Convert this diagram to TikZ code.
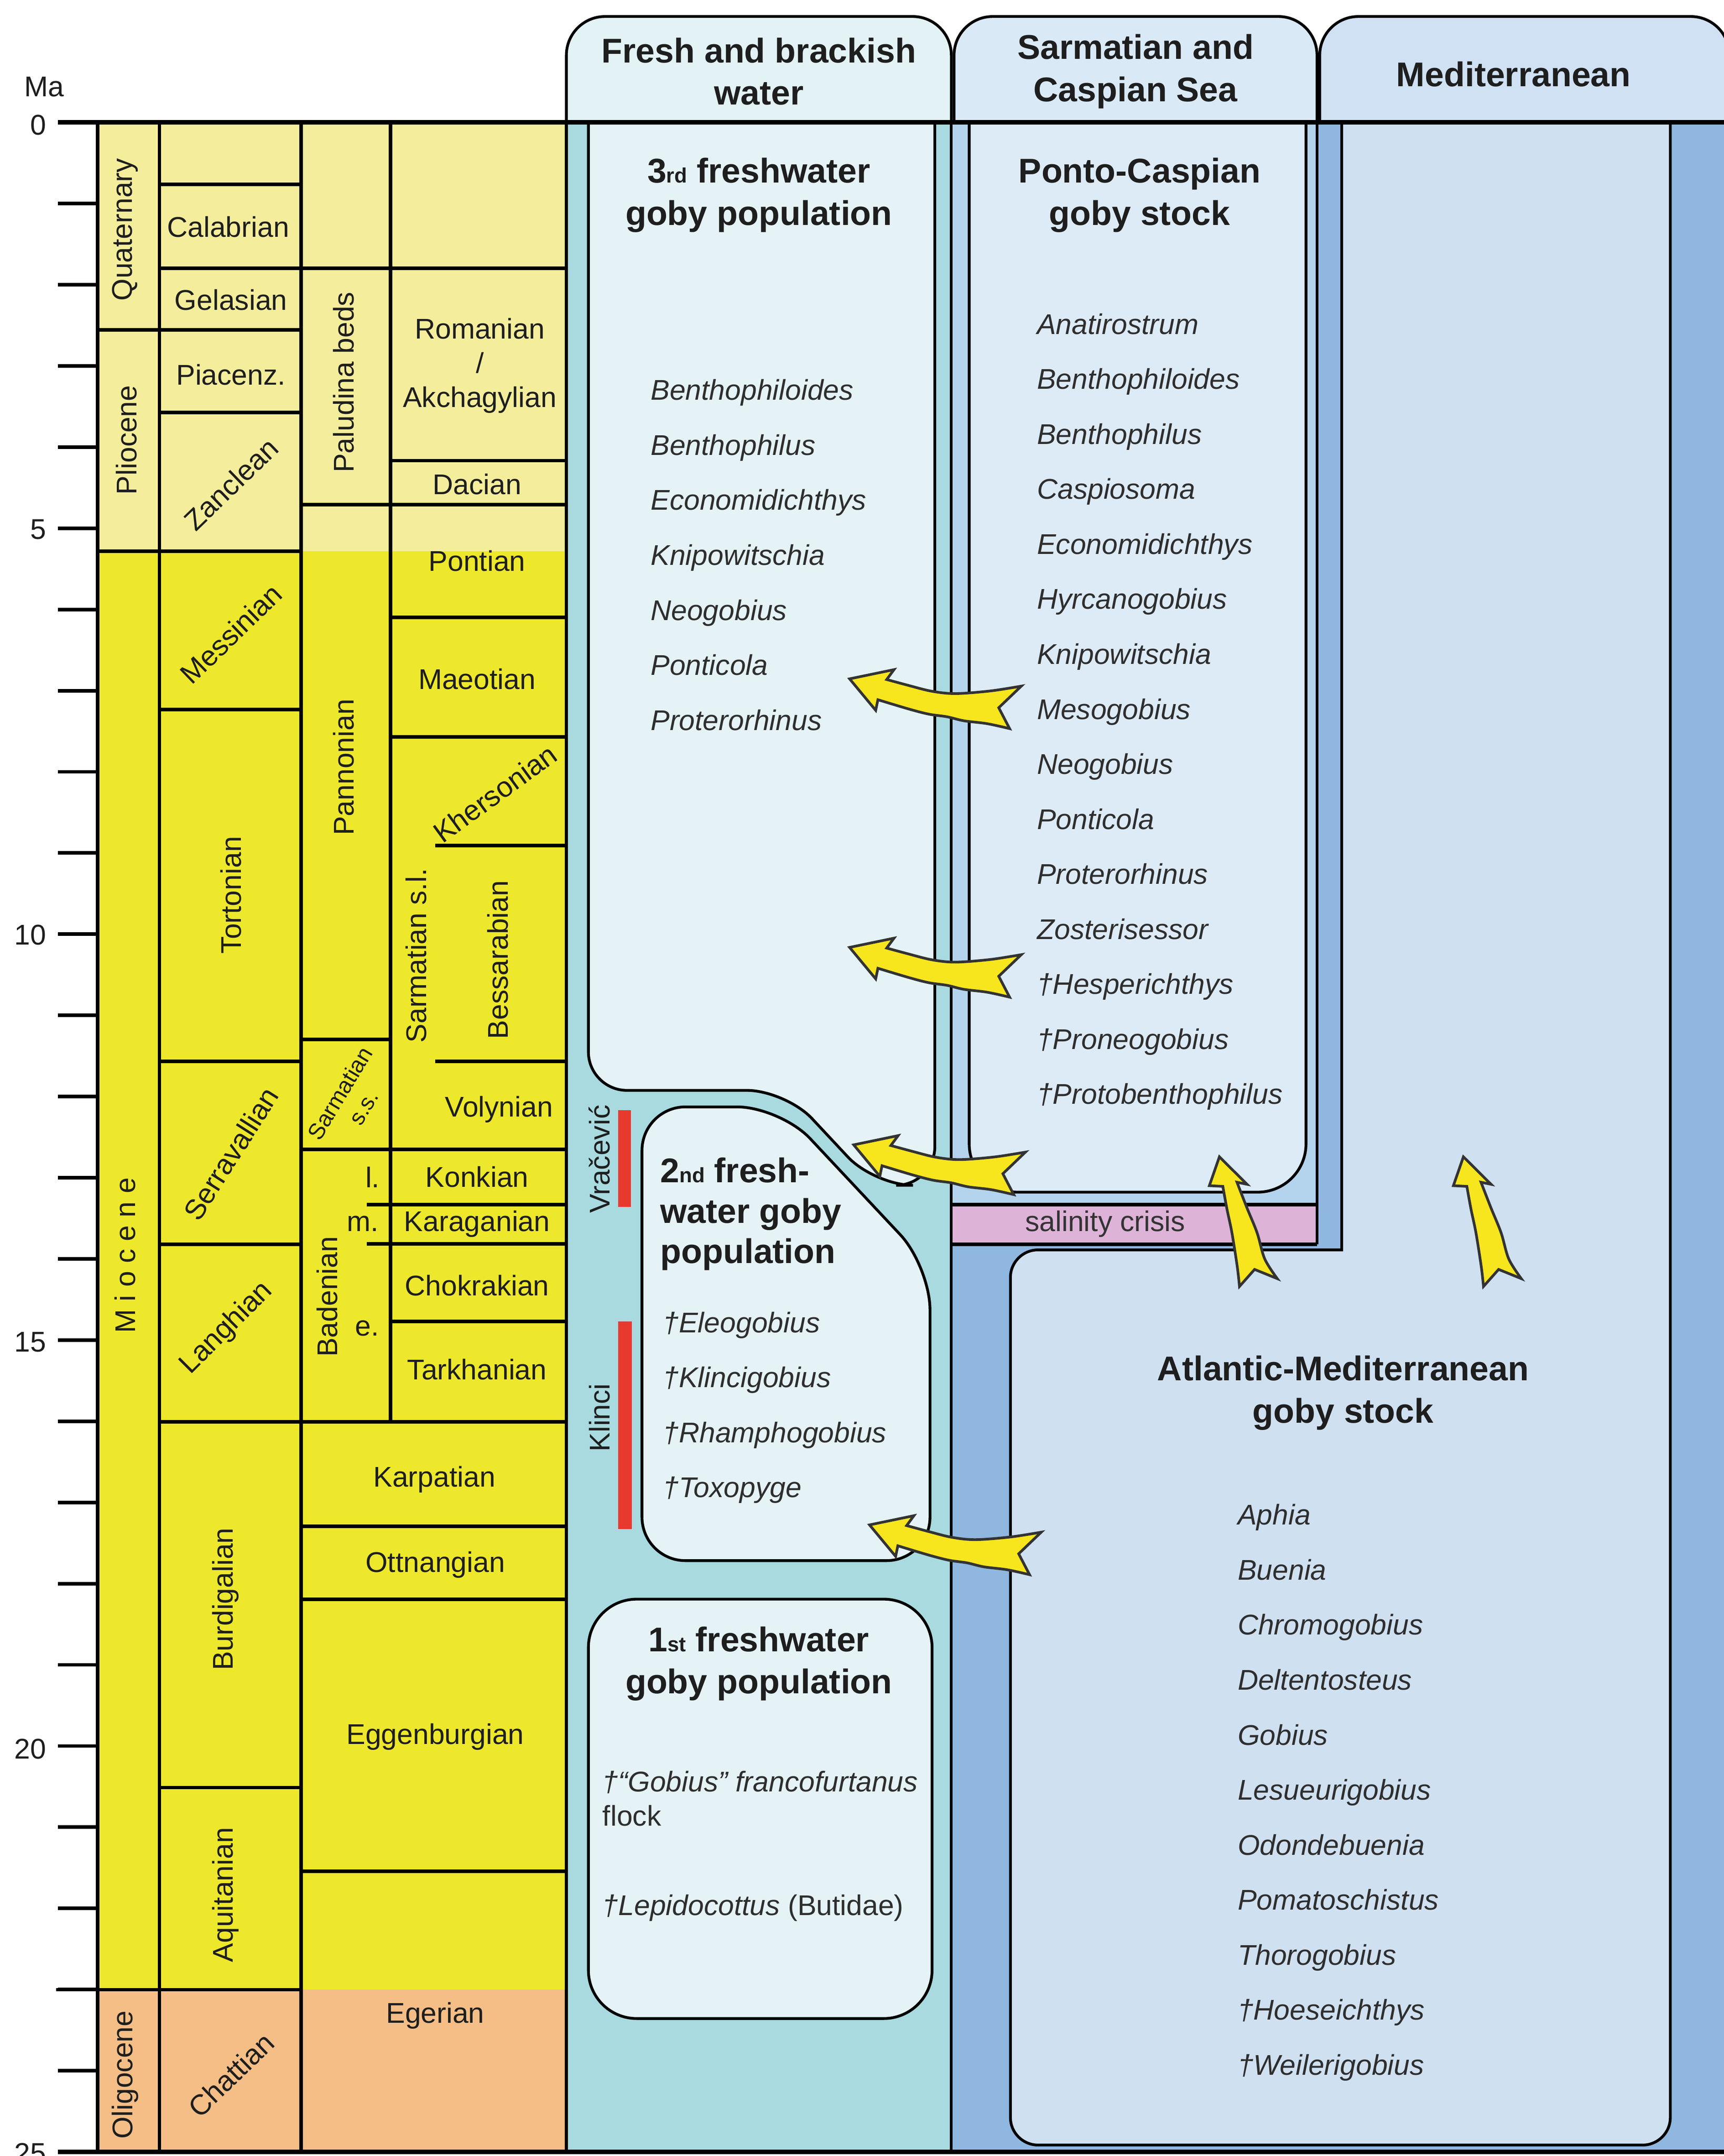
\documentclass[tikz,border=0pt]{standalone}
\usepackage{fontspec}
\setmainfont{Liberation Sans}
\definecolor{lightyel}{HTML}{F4EE9C}
\definecolor{brightyel}{HTML}{EEE82C}
\definecolor{oligo}{HTML}{F4BE86}
\definecolor{tealbg}{HTML}{A8DADF}
\definecolor{sarmbg}{HTML}{B4D3EC}
\definecolor{meddark}{HTML}{8FB7DF}
\definecolor{boxfresh}{HTML}{E5F3F6}
\definecolor{boxponto}{HTML}{DDEBF7}
\definecolor{boxmed}{HTML}{CFE0F1}
\definecolor{hdrfresh}{HTML}{E2F2F5}
\definecolor{hdrsarm}{HTML}{DAE9F6}
\definecolor{hdrmed}{HTML}{CFE1F3}
\definecolor{salin}{HTML}{DDB3D8}
\definecolor{redbar}{HTML}{E8392F}
\definecolor{arrowyel}{HTML}{F7E51E}
\definecolor{inkc}{HTML}{1E1E1E}
\definecolor{genc}{HTML}{2E2E2E}
\tikzset{
  tline/.style={line width=1.48pt, line cap=rect, draw=black},
  bline/.style={line width=1.15pt, draw=black},
  lbl/.style={font=\fontsize{11.8}{14.2}\selectfont, inner sep=0pt, text=inkc},
  smalllbl/.style={font=\fontsize{9.4}{11.4}\selectfont, inner sep=0pt, text=inkc, align=center},
  hdr/.style={font=\fontsize{14.2}{17.5}\selectfont\bfseries, inner sep=0pt, align=center, text=inkc},
  gen/.style={font=\fontsize{11.8}{14.2}\selectfont\itshape, inner sep=0pt, anchor=base west, text=genc},
  genup/.style={font=\fontsize{11.8}{14.2}\selectfont, inner sep=0pt, anchor=base west, text=genc},
  gobyarrow/.style={fill=arrowyel, draw=black!80, line width=1.1pt, line join=miter},
  harrow/.pic={
    \path[gobyarrow] (0,0) -- (32.3,-6.7)
      -- plot[smooth,tension=0.55] coordinates {(27,0.5) (42.9,4.8) (57.7,8.6) (70.9,10.5) (83.1,10.5) (104,8.6) (124.9,5.3)}
      -- (108.5,21)
      -- plot[smooth,tension=0.55] coordinates {(116.4,36.2) (100,32.6) (83.1,30.5) (70.9,27.6) (57.7,25.7) (42.9,21.9) (20.6,15.2)}
      -- (19,22.9) -- cycle;
  },
  uarrow/.pic={
    \path[gobyarrow] (0,0) -- (20.1,20)
      -- plot[smooth,tension=0.55] coordinates {(12.8,18.5) (20,37) (27.4,55.2) (33,74.3) (42.1,88.6)}
      -- (25.6,81.9)
      -- plot[smooth,tension=0.55] coordinates {(14.6,94.3) (13,80) (9.1,55.2) (5.5,38) (2.5,21.5)}
      -- (-7.3,21) -- cycle;
  }
}
\newcommand{\ordsup}[1]{{\fontsize{8.6}{10}\selectfont #1}}
\begin{document}
\begin{tikzpicture}[x=0.02cm,y=-0.02cm]
\useasboundingbox (0,0) rectangle (1254,1568);
\fill[white] (0,0) rectangle (1254,1568);

% ---------- stratigraphic table fills ----------
\fill[lightyel] (71,89) rectangle (412,401);
\fill[brightyel] (71,401) rectangle (412,1447);
\fill[oligo] (71,1447) rectangle (412,1565);

% ---------- environment columns ----------
\fill[tealbg] (412,89) rectangle (692,1565);
\fill[sarmbg] (692,89) rectangle (958,905);
\fill[meddark] (958,89) rectangle (1254,1565);
\fill[meddark] (692,905) rectangle (958,1565);
\fill[salin] (692,876) rectangle (958,905);

% Mediterranean inner region / Atlantic-Mediterranean stock
\filldraw[fill=boxmed, bline] (976,89) -- (976,909) -- (755,909)
  .. controls (744,909) and (735,918) .. (735,929) -- (735,1540)
  .. controls (735,1551) and (744,1560) .. (755,1560) -- (1195,1560)
  .. controls (1206,1560) and (1215,1551) .. (1215,1540) -- (1215,89);

% Ponto-Caspian box
\filldraw[fill=boxponto, bline, rounded corners=20] (705,89) -- (705,867) -- (950,867) -- (950,89);
% 3rd population box
\filldraw[fill=boxfresh, bline, rounded corners=16] (428,89) -- (428,793) -- (571.5,793) -- (636,862) -- (680,862) -- (680,89);
% 2nd population box
\filldraw[fill=boxfresh, bline, rounded corners=18] (467,970) -- (467,805) -- (567.7,805) -- (676.5,921) -- (676.5,1135) -- (467,1135) -- cycle;
% 1st population box
\filldraw[fill=boxfresh, bline, rounded corners=20] (428,1163) rectangle (678,1468);

% salinity crisis box lines
\draw[line width=1.5pt] (692,876) -- (958,876);
\draw[line width=1.5pt] (692,905) -- (958,905);
% column borders
\draw[bline] (692,89) -- (692,1565);
\draw[bline] (958,89) -- (958,905);

% headers
\filldraw[fill=hdrfresh, bline, rounded corners=16] (412,89) -- (412,12) -- (692,12) -- (692,89);
\filldraw[fill=hdrsarm, bline, rounded corners=16] (694,89) -- (694,12) -- (958,12) -- (958,89);
\filldraw[fill=hdrmed, bline, rounded corners=16] (960,89) -- (960,12) -- (1258,12) -- (1258,89);

% ---------- table lines ----------
\draw[tline] (71,89) -- (71,1565);
\draw[tline] (116,89) -- (116,1565);
\draw[tline] (219,89) -- (219,1565);
\draw[tline] (284,89) -- (284,1034);
\draw[tline] (412,89) -- (412,1565);
\draw[tline] (116,134) -- (219,134);
\draw[tline] (116,195) -- (412,195);
\draw[tline] (71,240) -- (219,240);
\draw[tline] (116,300) -- (219,300);
\draw[tline] (284,335) -- (412,335);
\draw[tline] (219,367) -- (412,367);
\draw[tline] (71,401) -- (219,401);
\draw[tline] (284,449) -- (412,449);
\draw[tline] (116,516) -- (219,516);
\draw[tline] (284,536) -- (412,536);
\draw[tline] (318,615) -- (412,615);
\draw[tline] (219,756) -- (284,756);
\draw[tline] (116,772) -- (219,772);
\draw[tline] (318,772) -- (412,772);
\draw[tline] (219,836) -- (412,836);
\draw[tline] (268,876) -- (412,876);
\draw[tline] (116,905) -- (219,905);
\draw[tline] (268,904.5) -- (412,904.5);
\draw[tline] (284,961) -- (412,961);
\draw[tline] (116,1034) -- (412,1034);
\draw[tline] (219,1110) -- (412,1110);
\draw[tline] (219,1163) -- (412,1163);
\draw[tline] (116,1300) -- (219,1300);
\draw[tline] (219,1361) -- (412,1361);
\draw[tline] (42,1447) -- (219,1447);

% main lines and ticks
\draw[line width=1.8pt] (42,89) -- (1254,89);
\draw[line width=1.8pt] (42,1565) -- (1254,1565);
\foreach \m in {1,...,24} \draw[tline, line cap=butt] (42,{89+59.04*\m}) -- (71,{89+59.04*\m});

% axis labels
\node[lbl] (ma) at (32,63) {Ma};
\node[lbl, anchor=east] (a0) at (34,91) {0};
\node[lbl, anchor=east] (a5) at (34,385) {5};
\node[lbl, anchor=east] (a10) at (34,680) {10};
\node[lbl, anchor=east] (a15) at (34,976) {15};
\node[lbl, anchor=east] (a20) at (34,1272) {20};
\node[lbl, anchor=east] (a25) at (34,1566) {25};

% series
\node[lbl, rotate=90] (quat) at (91,167) {Quaternary};
\node[lbl, rotate=90] (plio) at (92,320) {Pliocene};
\node[lbl, rotate=90] (mioc) at (91,913) {M i o c e n e};
\node[lbl, rotate=90] (olig) at (91,1509) {Oligocene};

% stages
\node[lbl] (calab) at (166,165) {Calabrian};
\node[lbl] (gelas) at (168,218) {Gelasian};
\node[lbl] (piac) at (168,272.5) {Piacenz.};
\node[lbl, rotate=44] (zancl) at (168,352) {Zanclean};
\node[lbl, rotate=44] (messi) at (168,461) {Messinian};
\node[lbl, rotate=90] (torto) at (168,651) {Tortonian};
\node[lbl, rotate=57.5] (serra) at (168,839) {Serravallian};
\node[lbl, rotate=45] (langh) at (165,966) {Langhian};
\node[lbl, rotate=90] (burdi) at (164,1163) {Burdigalian};
\node[lbl, rotate=90] (aquit) at (164,1378) {Aquitanian};
\node[lbl, rotate=44] (chatt) at (168,1509) {Chattian};

% Paratethys column C
\node[lbl, rotate=90] (palud) at (250,278) {Paludina beds};
\node[lbl, rotate=90] (panno) at (250,558) {Pannonian};
\node[smalllbl, rotate=59] (sarss) at (255.7,800.2) {Sarmatian\\s.s.};
\node[lbl, rotate=90] (baden) at (238,943) {Badenian};
\node[lbl] (blate) at (271,856) {l.};
\node[lbl] (bmid) at (264,890) {m.};
\node[lbl] (bearly) at (267,966) {e.};

% column D
\node[lbl, align=center] (roman) at (349,266) {Romanian\\/\\Akchagylian};
\node[lbl] (dacian) at (347,352) {Dacian};
\node[lbl] (pontian) at (347,408) {Pontian};
\node[lbl] (maeot) at (347,494) {Maeotian};
\node[lbl, rotate=36] (kherson) at (360,577) {Khersonian};
\node[lbl, rotate=90] (sarsl) at (302.6,695) {Sarmatian s.l.};
\node[lbl, rotate=90] (bessar) at (362,698) {Bessarabian};
\node[lbl] (volyn) at (363,807) {Volynian};
\node[lbl] (konk) at (347,856) {Konkian};
\node[lbl] (karag) at (347,890) {Karaganian};
\node[lbl] (chokr) at (347,935) {Chokrakian};
\node[lbl] (tarkh) at (347,996) {Tarkhanian};
\node[lbl] (karpat) at (316,1076) {Karpatian};
\node[lbl] (ottn) at (316.6,1138) {Ottnangian};
\node[lbl] (eggen) at (316.6,1263) {Eggenburgian};
\node[lbl] (eger) at (316.6,1466) {Egerian};

% ---------- headers ----------
\node[hdr] (hfresh) at (552,52) {Fresh and brackish\\water};
\node[hdr] (hsarm) at (826,52) {Sarmatian and\\Caspian Sea};
\node[hdr] (hmed) at (1101,54) {Mediterranean};

% ---------- box titles ----------
\node[hdr] (t3rd) at (552,142) {3\ordsup{rd} freshwater\\goby population};
\node[hdr] (tponto) at (829,142) {Ponto-Caspian\\goby stock};
\node[hdr, align=left, anchor=west, font=\fontsize{14.2}{16.7}\selectfont\bfseries] (t2nd) at (480,883) {2\ordsup{nd} fresh-\\water goby\\population};
\node[hdr] (t1st) at (552,1210) {1\ordsup{st} freshwater\\goby population};
\node[hdr] (tatl) at (977,1013) {Atlantic-Mediterranean\\goby stock};

% ---------- genus lists ----------
\foreach \g [count=\i from 0] in {Benthophiloides,Benthophilus,Economidichthys,Knipowitschia,Neogobius,Ponticola,Proterorhinus}
  \node[gen] (thr\i) at (473,{291+40*\i}) {\g};
\foreach \g [count=\i from 0] in {Anatirostrum,Benthophiloides,Benthophilus,Caspiosoma,Economidichthys,Hyrcanogobius,Knipowitschia,Mesogobius,Neogobius,Ponticola,Proterorhinus,Zosterisessor,†Hesperichthys,†Proneogobius,†Protobenthophilus}
  \node[gen] (pc\i) at (754,{243+40*\i}) {\g};
\foreach \g [count=\i from 0] in {†Eleogobius,†Klincigobius,†Rhamphogobius,†Toxopyge}
  \node[gen] (snd\i) at (482,{969+40*\i}) {\g};
\foreach \g [count=\i from 0] in {Aphia,Buenia,Chromogobius,Deltentosteus,Gobius,Lesueurigobius,Odondebuenia,Pomatoschistus,Thorogobius,†Hoeseichthys,†Weilerigobius}
  \node[gen] (am\i) at (900,{1109+40*\i}) {\g};
\node[gen] (fst0) at (438,1303) {†“Gobius” francofurtanus};
\node[genup] (fst1) at (438,1328) {flock};
\node[gen] (fst2) at (438,1393) {†Lepidocottus \upshape(Butidae)};

% salinity crisis
\node[lbl, text=black!80] (salt) at (804,890) {salinity crisis};

% localities
\fill[redbar] (449.5,807.5) rectangle (459,877.6);
\fill[redbar] (449.5,961) rectangle (459.5,1112);
\node[lbl, rotate=90] (vrac) at (436,843) {Vračević};
\node[lbl, rotate=90] (klin) at (436,1031) {Klinci};

% ---------- arrows ----------
\pic at (618,493.7) {harrow};
\pic at (618,689) {harrow};
\pic at (621,832.6) {harrow};
\pic at (632.5,1109) {harrow};
\pic at (887,841.3) {uarrow};
\begin{scope}[shift={(1064.5,841.3)}, xscale=-1]
  \pic at (0,0) {uarrow};
\end{scope}
\end{tikzpicture}
\end{document}
